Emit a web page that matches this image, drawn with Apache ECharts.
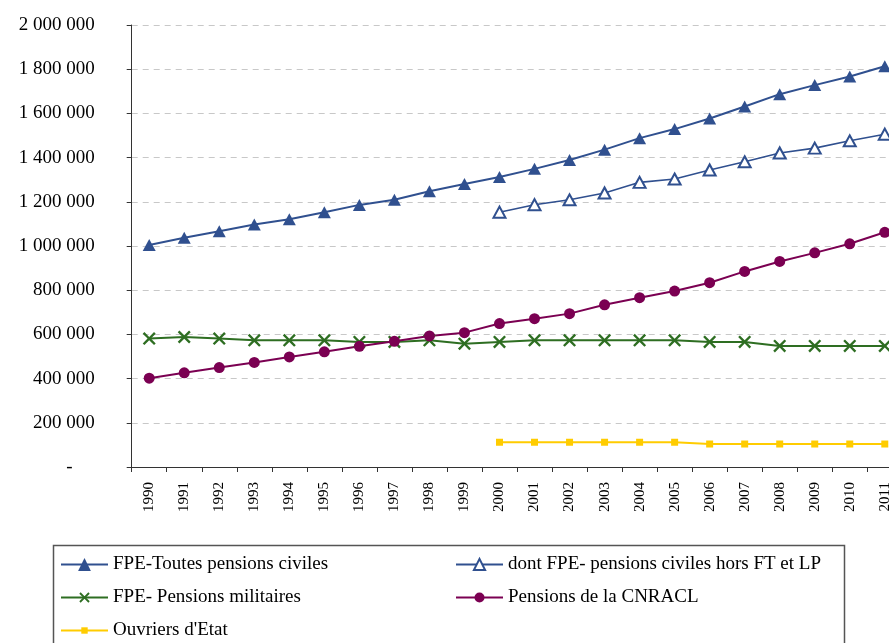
<!DOCTYPE html>
<html>
<head>
<meta charset="utf-8">
<script src="https://cdn.jsdelivr.net/npm/echarts@6/dist/echarts.min.js"></script>
<style>
  html, body { margin: 0; padding: 0; background: #fff; overflow: hidden; }
  /* the drawing is a little wider than the window: the last band runs off the right edge */
  #chart { width: 903px; height: 643px; }
</style>
</head>
<body>
<div id="chart"></div>
<script>
// Effectifs de pensionnés par régime, 1990-2011
const years = ['1990','1991','1992','1993','1994','1995','1996','1997','1998','1999','2000',
               '2001','2002','2003','2004','2005','2006','2007','2008','2009','2010','2011'];

const fpeCiviles = [1005000, 1037000, 1067000, 1097000, 1121000, 1153000, 1186000, 1209000, 1248000, 1281000, 1312000,
                    1349000, 1389000, 1436000, 1488000, 1529000, 1577000, 1631000, 1687000, 1728000, 1767000, 1813000];

const fpeHorsFtLp = [null, null, null, null, null, null, null, null, null, null, 1153000,
                     1187000, 1209000, 1240000, 1288000, 1303000, 1344000, 1381000, 1421000, 1443000, 1476000, 1506000];

const fpeMilitaires = [581000, 588000, 581000, 573000, 573000, 573000, 566000, 566000, 573000, 558000, 566000,
                       573000, 573000, 573000, 573000, 573000, 566000, 566000, 548000, 548000, 548000, 548000];

const cnracl = [402000, 426000, 450000, 473000, 498000, 521000, 546000, 569000, 593000, 608000, 649000,
                671000, 694000, 734000, 766000, 796000, 834000, 885000, 930000, 969000, 1010000, 1062000];

const ouvriersEtat = [null, null, null, null, null, null, null, null, null, null, 112000,
                      112000, 112000, 112000, 112000, 112000, 104000, 104000, 104000, 104000, 104000, 104000];

const names = {
  civiles: 'FPE-Toutes pensions civiles',
  hors: 'dont FPE- pensions civiles hors FT et LP',
  mil: 'FPE- Pensions militaires',
  cnracl: 'Pensions de la CNRACL',
  ouv: "Ouvriers d'Etat"
};

const FONT = "'Liberation Serif', 'Times New Roman', serif";
const BLUE = '#30508f';
const GREEN = '#2e6e22';
const WINE = '#7b0052';
const YELLOW = '#ffcc00';

// thin filled X shape used as the military series marker
const crossPath = 'path://M0,1.3 L1.3,0 L5,3.7 L8.7,0 L10,1.3 L6.3,5 L10,8.7 L8.7,10 L5,6.3 L1.3,10 L0,8.7 L3.7,5 Z';

function fmtThousands(v) {
  if (v === 0) return '{d|-}';
  return String(v).replace(/\B(?=(\d{3})+(?!\d))/g, ' ');
}

const chart = echarts.init(document.getElementById('chart'), null, { renderer: 'canvas' });

const legendText = { fontFamily: FONT, fontSize: 19, color: '#000', lineHeight: 18 };

// one legend entry per slot so each keeps its own marker size
function legendEntry(name, left, top, iconHeight) {
  return {
    orient: 'vertical',
    left: left,
    top: top,
    padding: 0,
    itemWidth: 47,
    itemHeight: iconHeight,
    itemTextGap: 5,
    textStyle: legendText,
    data: [name]
  };
}

chart.setOption({
  animation: false,
  backgroundColor: '#fff',
  grid: { left: 131.7, right: 0.7, top: 25, bottom: 176, containLabel: false },
  xAxis: {
    type: 'category',
    data: years,
    boundaryGap: true,
    axisLine: { lineStyle: { color: '#333', width: 1 } },
    axisTick: { show: true, length: 5, lineStyle: { color: '#333' } },
    axisLabel: { rotate: 90, margin: 15, fontFamily: FONT, fontSize: 15, color: '#000', interval: 0 },
    splitLine: { show: false }
  },
  yAxis: {
    type: 'value',
    min: 0,
    max: 2000000,
    interval: 200000,
    axisLine: { show: true, lineStyle: { color: '#333', width: 1 } },
    axisTick: { show: true, length: 5, lineStyle: { color: '#333' } },
    axisLabel: {
      margin: 37,
      fontFamily: FONT,
      fontSize: 19,
      color: '#000',
      formatter: fmtThousands,
      rich: { d: { fontFamily: FONT, fontSize: 19, color: '#000', padding: [0, 22, 0, 0] } }
    },
    splitLine: { show: true, lineStyle: { color: '#c8c8c8', width: 1, type: [6, 5] } }
  },
  legend: [
    legendEntry(names.civiles, 60, 555, 16),
    legendEntry(names.mil, 60, 588, 13),
    legendEntry(names.ouv, 60, 621, 8),
    legendEntry(names.hors, 455, 555, 14),
    legendEntry(names.cnracl, 455, 588, 12.5)
  ],
  graphic: [
    {
      type: 'rect',
      silent: true,
      shape: { x: 53.5, y: 545.5, width: 791, height: 120 },
      style: { fill: 'none', stroke: '#555', lineWidth: 1.5 }
    }
  ],
  series: [
    {
      name: names.civiles,
      type: 'line',
      data: fpeCiviles,
      symbol: 'triangle',
      symbolSize: [13, 12],
      lineStyle: { color: BLUE, width: 2 },
      itemStyle: { color: BLUE, borderColor: BLUE, borderWidth: 0 }
    },
    {
      name: names.hors,
      type: 'line',
      data: fpeHorsFtLp,
      symbol: 'triangle',
      symbolSize: [12, 11],
      lineStyle: { color: BLUE, width: 1.6 },
      itemStyle: { color: '#fff', borderColor: BLUE, borderWidth: 2 }
    },
    {
      name: names.mil,
      type: 'line',
      data: fpeMilitaires,
      symbol: crossPath,
      symbolSize: 13,
      lineStyle: { color: GREEN, width: 2 },
      itemStyle: { color: GREEN, borderWidth: 0 }
    },
    {
      name: names.cnracl,
      type: 'line',
      data: cnracl,
      symbol: 'circle',
      symbolSize: 11,
      lineStyle: { color: WINE, width: 2 },
      itemStyle: { color: WINE, borderWidth: 0 }
    },
    {
      name: names.ouv,
      type: 'line',
      data: ouvriersEtat,
      symbol: 'rect',
      symbolSize: 7,
      lineStyle: { color: YELLOW, width: 2 },
      itemStyle: { color: YELLOW, borderWidth: 0 }
    }
  ]
});
</script>
</body>
</html>
